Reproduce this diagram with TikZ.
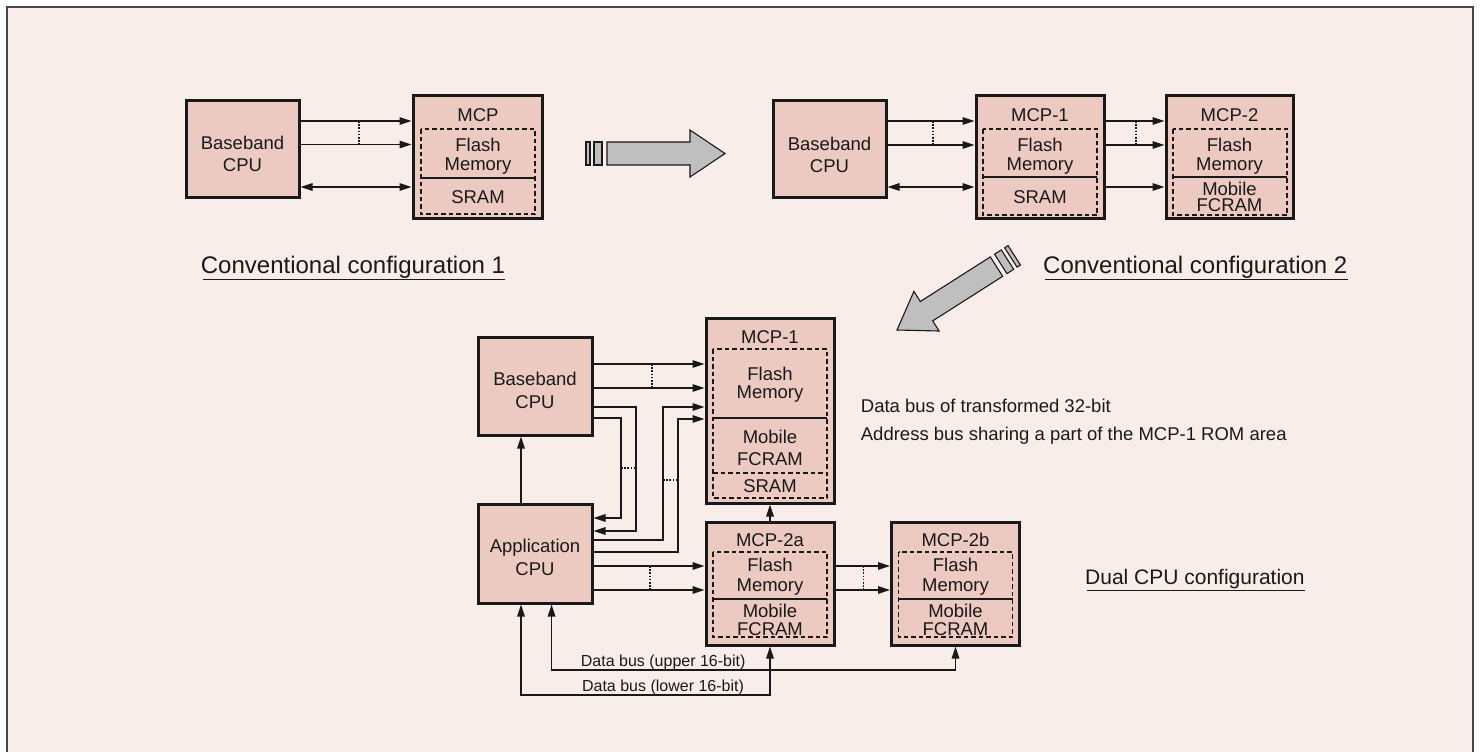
\documentclass[tikz,border=0pt]{standalone}
\usepackage{fontspec}
\setmainfont{Liberation Sans}
\usetikzlibrary{arrows.meta}
\definecolor{bg}{RGB}{249,237,233}
\definecolor{boxfill}{RGB}{237,202,193}
\definecolor{arrgray}{RGB}{191,191,191}
\definecolor{ink}{RGB}{25,25,25}
\definecolor{framec}{RGB}{70,70,70}
\begin{document}
\begin{tikzpicture}[x=1pt,y=-1pt,
  box/.style={draw=ink, line width=3pt, fill=boxfill, inner sep=0pt},
  innerbox/.style={draw=ink, line width=1.2pt, dash pattern=on 4.5pt off 3pt},
  sepline/.style={draw=ink, line width=1.2pt},
  conn/.style={draw=ink, line width=1.4pt},
  arr/.style={conn, -{Triangle[length=12pt,width=7.5pt]}},
  darr/.style={conn, {Triangle[length=12pt,width=7.5pt]}-{Triangle[length=12pt,width=7.5pt]}},
  dots/.style={draw=ink, line width=1.2pt, dash pattern=on 1.6pt off 1.6pt},
  txt/.style={anchor=base, inner sep=0pt, font=\fontsize{18.5}{20}\selectfont, text=ink},
  small/.style={anchor=base, inner sep=0pt, font=\fontsize{16}{18}\selectfont, text=ink},
  desc/.style={anchor=base west, inner sep=0pt, font=\fontsize{18.5}{20}\selectfont, text=ink},
  headtxt/.style={anchor=base west, inner sep=0pt, font=\fontsize{24}{28}\selectfont, text=ink},
  uline/.style={draw=ink, line width=1.5pt},
  bigarrow/.style={fill=arrgray, draw=ink, line width=1.1pt}
]
\useasboundingbox (0,0) rectangle (1481,752);
\fill[white] (0,0) rectangle (1481,752);
\fill[bg] (7,7) rectangle (1473,760);
\draw[framec, line width=1.5pt] (7,760) -- (7,7) -- (1473,7) -- (1473,760);

% ---------------- Configuration 1 ----------------
\node[box, minimum width=113pt, minimum height=97pt] (b1) at (242.5,148.5) {};
\node[box, minimum width=129pt, minimum height=123pt] (m1) at (477.5,156.5) {};
\draw[innerbox] (421,129) rectangle (535,214);
\draw[sepline] (421,178) -- (535,178);
\node[txt] (t1a) at (242.5,149.6) {Baseband};
\node[txt] (t1b) at (242.5,171) {CPU};
\node[txt] (t1c) at (478,121.3) {MCP};
\node[txt] (t1d) at (478,151.8) {Flash};
\node[txt] (t1e) at (478,170.3) {Memory};
\node[txt] (t1f) at (478,203.3) {SRAM};
\draw[arr] (b1.east |- 0,121) -- (m1.west |- 0,121);
\draw[arr] (b1.east |- 0,144.5) -- (m1.west |- 0,144.5);
\draw[darr] (b1.east |- 0,187) -- (m1.west |- 0,187);
\draw[dots] (359,121) -- (359,144.5);
\node[headtxt] (h1) at (200.7,273.3) {Conventional configuration 1};
\draw[uline] ([yshift=-6pt,xshift=2pt]h1.base west) -- ([yshift=-6pt]h1.base east);

% ---------------- horizontal big arrow ----------------
\begin{scope}[shift={(725,153.5)}]
  \draw[bigarrow] (0,0) -- (-35,-23.5) -- (-35,-11.5) -- (-118,-11.5) -- (-118,11.5) -- (-35,11.5) -- (-35,23.5) -- cycle;
  \draw[bigarrow] (-131,-11.5) rectangle (-123,11.5);
  \draw[bigarrow] (-139,-11.5) rectangle (-135,11.5);
\end{scope}

% ---------------- Configuration 2 ----------------
\node[box, minimum width=113pt, minimum height=97pt] (b2) at (829.5,148.5) {};
\node[box, minimum width=128pt, minimum height=123pt] (m21) at (1040,156.5) {};
\node[box, minimum width=127pt, minimum height=123pt] (m22) at (1229.5,156.5) {};
\draw[innerbox] (983,129) rectangle (1097,215);
\draw[sepline] (983,177) -- (1097,177);
\draw[innerbox] (1173,129) rectangle (1287,215);
\draw[sepline] (1173,177) -- (1287,177);
\node[txt] (t2a) at (829.5,150.5) {Baseband};
\node[txt] (t2b) at (829.5,172) {CPU};
\node[txt] (t2c) at (1040,121.3) {MCP-1};
\node[txt] (t2d) at (1040,151.8) {Flash};
\node[txt] (t2e) at (1040,170.3) {Memory};
\node[txt] (t2f) at (1040,203.3) {SRAM};
\node[txt] (t2g) at (1229.5,121.3) {MCP-2};
\node[txt] (t2h) at (1229.5,151.8) {Flash};
\node[txt] (t2i) at (1229.5,170.3) {Memory};
\node[txt] (t2j) at (1229.5,195) {Mobile};
\node[txt] (t2k) at (1229.5,211.7) {FCRAM};
\draw[arr] (b2.east |- 0,121) -- (m21.west |- 0,121);
\draw[arr] (b2.east |- 0,145) -- (m21.west |- 0,145);
\draw[darr] (b2.east |- 0,187) -- (m21.west |- 0,187);
\draw[dots] (933,121) -- (933,145);
\draw[arr] (m21.east |- 0,121) -- (m22.west |- 0,121);
\draw[arr] (m21.east |- 0,145) -- (m22.west |- 0,145);
\draw[arr] (m21.east |- 0,187) -- (m22.west |- 0,187);
\draw[dots] (1136,121) -- (1136,145);
\node[headtxt] (h2) at (1043,273.3) {Conventional configuration 2};
\draw[uline] ([yshift=-6pt,xshift=2pt]h2.base west) -- ([yshift=-6pt]h2.base east);

% ---------------- diagonal big arrow ----------------
\begin{scope}[shift={(897,330)}, rotate=212.5]
  \draw[bigarrow] (0,0) -- (-35,-23.5) -- (-35,-11.5) -- (-118,-11.5) -- (-118,11.5) -- (-35,11.5) -- (-35,23.5) -- cycle;
  \draw[bigarrow] (-131,-11.5) rectangle (-123,11.5);
  \draw[bigarrow] (-139,-11.5) rectangle (-135,11.5);
\end{scope}

% ---------------- Dual CPU configuration ----------------
\node[box, minimum width=114pt, minimum height=98pt] (b3) at (535,386) {};
\node[box, minimum width=114pt, minimum height=99pt] (a3) at (535,553.5) {};
\node[box, minimum width=128pt, minimum height=185pt] (m31) at (770,410.5) {};
\node[box, minimum width=128pt, minimum height=123pt] (m32) at (770,583.5) {};
\node[box, minimum width=128pt, minimum height=123pt] (m33) at (955.5,583.5) {};
\draw[innerbox] (713,349) rectangle (827,498);
\draw[sepline] (713,418) -- (827,418);
\draw[innerbox] (713,473) -- (827,473);
\draw[innerbox] (713,552) rectangle (827,637);
\draw[sepline] (713,599) -- (827,599);
\draw[innerbox] (898.5,552) rectangle (1012.5,637);
\draw[sepline] (898.5,599) -- (1012.5,599);

\node[txt] (t3a) at (535,385) {Baseband};
\node[txt] (t3b) at (535,408.3) {CPU};
\node[txt] (t3c) at (535,552.6) {Application};
\node[txt] (t3d) at (535,575.8) {CPU};
\node[txt] (t3e) at (770,343.3) {MCP-1};
\node[txt] (t3f) at (770,380.3) {Flash};
\node[txt] (t3g) at (770,398.6) {Memory};
\node[txt] (t3h) at (770,443.3) {Mobile};
\node[txt] (t3i) at (770,465.6) {FCRAM};
\node[txt] (t3j) at (770,492.6) {SRAM};
\node[txt] (t3k) at (770,546.6) {MCP-2a};
\node[txt] (t3l) at (770,571.8) {Flash};
\node[txt] (t3m) at (770,591.1) {Memory};
\node[txt] (t3n) at (770,617.4) {Mobile};
\node[txt] (t3o) at (770,635) {FCRAM};
\node[txt] (t3p) at (955.5,546.6) {MCP-2b};
\node[txt] (t3q) at (955.5,571.8) {Flash};
\node[txt] (t3r) at (955.5,591.1) {Memory};
\node[txt] (t3s) at (955.5,617.4) {Mobile};
\node[txt] (t3t) at (955.5,635) {FCRAM};

\draw[arr] (b3.east |- 0,364) -- (m31.west |- 0,364);
\draw[arr] (b3.east |- 0,388) -- (m31.west |- 0,388);
\draw[dots] (652,364) -- (652,388);
\draw[arr] (b3.east |- 0,407) -- (636,407) -- (636,531) -- (a3.east |- 0,531);
\draw[arr] (b3.east |- 0,418) -- (621,418) -- (621,518) -- (a3.east |- 0,518);
\draw[arr] (a3.east |- 0,540) -- (663,540) -- (663,407) -- (m31.west |- 0,407);
\draw[arr] (a3.east |- 0,552) -- (678,552) -- (678,419) -- (m31.west |- 0,419);
\draw[dots] (621,468) -- (636,468);
\draw[dots] (663,480) -- (678,480);
\draw[arr] (a3.north -| 521,0) -- (b3.south -| 521,0);
\draw[arr] (m32.north) -- (m31.south);
\draw[arr] (a3.east |- 0,566) -- (m32.west |- 0,566);
\draw[arr] (a3.east |- 0,590) -- (m32.west |- 0,590);
\draw[dots] (650,566) -- (650,590);
\draw[arr] (m32.east |- 0,566) -- (m33.west |- 0,566);
\draw[arr] (m32.east |- 0,590) -- (m33.west |- 0,590);
\draw[dots] (863.6,566) -- (863.6,590);
\draw[darr] (a3.south -| 551.6,0) -- (551.6,670) -- (955.5,670) -- (m33.south);
\draw[darr] (a3.south -| 521,0) -- (521,695) -- (770,695) -- (m32.south);
\node[small] (d1) at (663.2,666) {Data bus (upper 16-bit)};
\node[small] (d2) at (663,691) {Data bus (lower 16-bit)};

\node[desc] (e1) at (860.7,412.1) {Data bus of transformed 32-bit};
\node[desc] (e2) at (860.7,440) {Address bus sharing a part of the MCP-1 ROM area};

\node[headtxt, font=\fontsize{21}{25}\selectfont] (h3) at (1085,584.5) {Dual CPU configuration};
\draw[uline] ([yshift=-6pt,xshift=2pt]h3.base west) -- ([yshift=-6pt]h3.base east);
\end{tikzpicture}
\end{document}
